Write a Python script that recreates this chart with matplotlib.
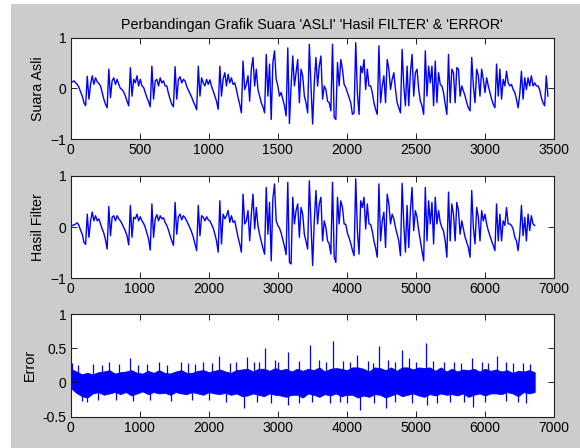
import numpy as np
import matplotlib
matplotlib.use('Agg')
import matplotlib.pyplot as plt
from matplotlib.patches import Rectangle

plt.rcParams['font.family'] = ['Liberation Sans', 'DejaVu Sans']

# signal values (one value every 12 samples for the original,
# every 24 samples for the filtered one)
suara_asli = [
    0.11, 0.13, 0.15, 0.11, 0.08, 0.02, -0.07, -0.15, -0.28, -0.34,
    0.24, -0.21, 0.08, 0.25, 0.08, 0.21, 0.13, 0.10, 0.05, -0.08,
    -0.21, -0.31, -0.38, 0.38, -0.18, 0.15, 0.21, 0.08, 0.18, 0.08,
    0.00, -0.02, -0.07, -0.15, -0.25, -0.34, 0.41, -0.15, 0.18, 0.11,
    0.25, 0.05, 0.18, 0.05, 0.02, -0.08, -0.18, -0.26, -0.36, 0.44,
    -0.21, 0.15, 0.18, 0.05, 0.21, 0.11, 0.15, 0.05, 0.05, -0.10,
    -0.21, -0.31, -0.36, 0.43, -0.21, 0.18, 0.23, 0.11, 0.18, 0.15,
    0.04, -0.03, -0.10, -0.17, -0.26, -0.33, -0.42, 0.44, -0.15, 0.21,
    0.11, 0.05, 0.18, 0.08, 0.17, 0.04, -0.05, -0.15, -0.25, -0.41,
    0.44, -0.15, 0.19, 0.31, 0.05, 0.28, 0.11,
    0.21, 0.08, 0.11, -0.02, -0.18, -0.31, -0.48, 0.54, -0.02, 0.08,
    0.25, -0.25, 0.38, 0.61, 0.05, 0.38, -0.02, -0.15, -0.28, -0.36,
    -0.48, 0.67, -0.15, 0.48, -0.61, 0.51, 0.74, 0.18, 0.05, -0.15,
    -0.08, -0.21, -0.34, -0.54, 0.80, -0.69, 0.05, 0.64, 0.05, 0.31,
    0.57, -0.28, 0.38, 0.25, -0.15, -0.28, -0.48, 0.87, 0.05, -0.70,
    0.11, 0.61, 0.05, 0.44, 0.64, -0.21, 0.05, -0.02, -0.25, -0.28,
    -0.44, 0.87, -0.57, -0.61, 0.51, 0.05, 0.57, 0.38, 0.08, 0.02,
    -0.08, -0.18, -0.28, -0.51, -0.48, 0.90, -0.08, -0.51, 0.44, 0.31,
    0.57, -0.02, 0.38, 0.05, 0.05, -0.08, -0.28, -0.41, -0.51, 0.84,
    -0.28, 0.05, 0.25, -0.28, 0.57, 0.38, -0.02,
    0.18, 0.31, -0.02, -0.28, -0.38, -0.48, 0.77, 0.05, -0.34, 0.44,
    -0.34, 0.31, 0.67, -0.15, 0.31, 0.38, -0.02, -0.25, -0.34, -0.51,
    0.74, -0.15, 0.44, 0.11, 0.44, -0.34, 0.54, -0.28, 0.31, 0.08,
    0.05, -0.08, -0.31, -0.51, 0.67, -0.28, 0.38, 0.31, -0.28, 0.41,
    0.38, -0.15, 0.05, -0.05, -0.15, -0.28, -0.38, -0.44, 0.61, 0.05,
    -0.28, 0.38, 0.25, -0.15, 0.38, 0.18, -0.08, 0.21, 0.05, -0.08,
    -0.21, -0.31, -0.38, 0.48, -0.15, 0.38, -0.21, 0.18, 0.05, 0.34,
    0.11, 0.05, 0.08, -0.02, -0.08, -0.21, -0.38, -0.11, 0.34, -0.21,
    0.21, -0.02, 0.21, 0.05, 0.25, 0.05, 0.11, 0.05, 0.05, -0.02,
    -0.18, -0.28, -0.34, 0.25, -0.15,
]
step_asli = 12

hasil_filter = [
    0.03, 0.03, 0.04, 0.06, 0.08, 0.03, -0.07, -0.14, -0.30, -0.34,
    0.25, -0.20, 0.12, 0.29, 0.12, 0.22, 0.12, 0.16, 0.06, -0.04,
    -0.12, -0.25, -0.43, 0.40, -0.17, 0.19, 0.22, 0.12, 0.22, 0.16,
    0.12, 0.06, -0.01, -0.08, -0.17, -0.35, 0.42, -0.20, 0.19, 0.16,
    0.25, 0.12, 0.20, 0.12, 0.07, -0.01, -0.12, -0.23, -0.45, 0.45,
    -0.20, 0.16, 0.24, 0.12, 0.22, 0.16, 0.18, 0.09, 0.03, -0.06,
    -0.17, -0.27, -0.36, 0.48, -0.14, 0.20, 0.25, 0.14, 0.22, 0.18,
    0.12, 0.05, -0.02, -0.10, -0.20, -0.33, -0.46, 0.42, -0.17, 0.22,
    0.19, 0.12, 0.20, 0.14, 0.12, 0.05, -0.02, -0.14, -0.27, -0.49,
    0.51, -0.33, 0.25, 0.16, 0.22, 0.32, 0.09,
    0.22, 0.09, 0.12, -0.04, -0.20, -0.33, -0.49, 0.64, 0.06, 0.12,
    0.32, -0.27, 0.25, 0.64, -0.04, 0.38, 0.03, -0.15, -0.28, -0.41,
    -0.53, 0.77, -0.14, 0.48, -0.66, 0.55, 0.84, 0.12, 0.03, -0.02,
    -0.12, -0.25, -0.38, -0.54, 0.87, -0.69, -0.72, 0.58, 0.06, 0.32,
    0.45, -0.20, 0.38, 0.25, -0.14, -0.28, -0.43, 0.90, 0.06, -0.75,
    0.12, 0.71, 0.06, 0.45, 0.58, -0.27, 0.12, -0.01, -0.27, -0.33,
    -0.53, 0.87, -0.58, -0.69, 0.58, 0.06, 0.51, 0.38, 0.06, 0.05,
    -0.12, -0.21, -0.32, -0.45, -0.56, 0.94, -0.07, -0.53, 0.51, 0.38,
    0.58, -0.04, 0.45, 0.06, 0.05, -0.08, -0.27, -0.41, -0.59, 0.84,
    -0.27, 0.12, 0.29, -0.40, 0.64, 0.45, 0.06,
    0.25, 0.16, -0.01, -0.14, -0.27, -0.56, 0.85, 0.06, -0.49, 0.42,
    -0.40, 0.32, 0.77, -0.07, 0.32, 0.19, -0.07, -0.27, -0.46, -0.66,
    0.77, -0.27, 0.51, 0.06, 0.48, -0.33, 0.58, 0.06, 0.32, 0.09,
    -0.01, -0.08, -0.27, -0.59, 0.68, -0.27, 0.45, 0.25, -0.27, 0.48,
    0.32, -0.14, 0.12, -0.04, -0.20, -0.30, -0.40, -0.59, 0.71, -0.01,
    -0.33, 0.38, 0.19, -0.27, 0.32, 0.12, 0.25, 0.06, -0.07, -0.17,
    -0.27, -0.36, -0.46, 0.45, -0.27, 0.25, -0.27, 0.12, 0.03, 0.38,
    0.06, 0.06, 0.03, -0.04, -0.20, -0.27, -0.46, -0.14, 0.42, -0.17,
    0.19, -0.27, 0.25, -0.07, 0.22, 0.06, 0.03,
]
step_filter = 24

# error: solid band edges every 80 samples, plus the thin spikes that stick out
err_upper = [
    0.2, 0.16, 0.12, 0.14, 0.12, 0.15, 0.16, 0.18, 0.13, 0.15,
    0.16, 0.18, 0.14, 0.13, 0.17, 0.14, 0.18, 0.14, 0.13, 0.16,
    0.18, 0.14, 0.14, 0.17, 0.18, 0.15, 0.17, 0.19, 0.16, 0.14,
    0.18, 0.19, 0.2, 0.16, 0.2, 0.2, 0.17, 0.21, 0.18, 0.2,
    0.16, 0.2, 0.17, 0.2, 0.18, 0.22, 0.16, 0.2, 0.21, 0.2,
    0.18, 0.22, 0.22, 0.2, 0.16, 0.22, 0.21, 0.18, 0.22, 0.17,
    0.22, 0.22, 0.19, 0.22, 0.21, 0.22, 0.17, 0.22, 0.16, 0.2,
    0.16, 0.19, 0.18, 0.2, 0.16, 0.2, 0.17, 0.19, 0.16, 0.18,
    0.14, 0.17, 0.16, 0.18, 0.15,
]
err_lower = [
    -0.08, -0.15, -0.2, -0.22, -0.16, -0.14, -0.18, -0.16, -0.14, -0.17,
    -0.14, -0.19, -0.16, -0.13, -0.17, -0.14, -0.16, -0.15, -0.18, -0.14,
    -0.16, -0.17, -0.14, -0.16, -0.18, -0.14, -0.16, -0.17, -0.15, -0.18,
    -0.16, -0.2, -0.19, -0.16, -0.18, -0.2, -0.16, -0.18, -0.19, -0.21,
    -0.18, -0.18, -0.22, -0.16, -0.18, -0.21, -0.17, -0.19, -0.16, -0.2,
    -0.18, -0.18, -0.22, -0.19, -0.21, -0.17, -0.18, -0.22, -0.19, -0.16,
    -0.2, -0.18, -0.16, -0.19, -0.21, -0.17, -0.19, -0.16, -0.18, -0.17,
    -0.19, -0.16, -0.21, -0.18, -0.16, -0.19, -0.16, -0.16, -0.17, -0.14,
    -0.16, -0.2, -0.14, -0.16, -0.14,
]
err_step = 80
spike_pos = [20, 100, 330, 450, 560, 700, 860, 980, 1100, 1280, 1400, 1600,
             1700, 1800, 1920, 2050, 2154, 2300, 2400, 2560, 2650, 2720, 2816,
             2960, 3000, 3140, 3300, 3468, 3600, 3700, 3806, 3950, 4050, 4144,
             4300, 4380, 4467, 4600, 4700, 4796, 4900, 5000, 5143, 5250, 5400,
             5550, 5650, 5810, 5950, 6050, 6173, 6300, 6400, 6550, 6650,
             160, 240, 400, 650, 900, 1150, 1450, 1750, 2000, 2250, 2512,
             2700, 2900, 3140, 3300, 3500, 3750, 3900, 4000, 4192, 4400, 4564,
             4700, 4950, 5158, 5300, 5500, 5700, 5825, 6000, 6300, 6472, 6600]
spike_val = [0.28, 0.26, 0.27, 0.25, 0.3, 0.27, 0.35, 0.26, 0.27, 0.3, 0.26, 0.3,
             0.28, 0.27, 0.3, 0.28, 0.38, 0.28, 0.3, 0.37, 0.3, 0.3, 0.5,
             0.33, 0.3, 0.45, 0.32, 0.55, 0.33, 0.3, 0.6, 0.32, 0.3, 0.4,
             0.32, 0.28, 0.53, 0.33, 0.3, 0.47, 0.35, 0.3, 0.57, 0.32, 0.3,
             0.3, 0.28, 0.35, 0.3, 0.28, 0.38, 0.3, 0.28, 0.28, 0.27,
             -0.27, -0.28, -0.26, -0.25, -0.27, -0.25, -0.27, -0.26, -0.25, -0.28, -0.38,
             -0.28, -0.3, -0.33, -0.3, -0.29, -0.3, -0.28, -0.3, -0.4, -0.3, -0.38,
             -0.28, -0.3, -0.33, -0.3, -0.28, -0.29, -0.36, -0.28, -0.27, -0.28, -0.3]

judul = "Perbandingan Grafik Suara 'ASLI' 'Hasil FILTER' & 'ERROR'"


def style_axes(ax):
    ax.tick_params(direction='in', top=True, right=True, length=4, width=0.6,
                   labelsize=10, pad=3, colors='black')
    for s in ax.spines.values():
        s.set_linewidth(0.8)
        s.set_color('#202020')


fig = plt.figure(figsize=(5.8, 4.48), dpi=100, facecolor='white')
fig.patches.append(Rectangle((11 / 580, 0), 1, 444 / 448, transform=fig.transFigure,
                             facecolor=(0.8, 0.8, 0.8), edgecolor='none', zorder=-10))

ax1 = fig.add_axes([0.1219, 0.6891, 0.8333, 0.2268])
x1 = np.arange(len(suara_asli)) * step_asli
ax1.plot(x1, suara_asli, color='blue', lw=1.0)
ax1.set_xlim(0, 3500)
ax1.set_ylim(-1, 1)
ax1.set_xticks(range(0, 3501, 500))
ax1.set_yticks([-1, 0, 1])
ax1.set_ylabel('Suara Asli', fontsize=10.3)
ax1.set_title(judul, fontsize=10.3, pad=6)
style_axes(ax1)

ax2 = fig.add_axes([0.1219, 0.3788, 0.8333, 0.229])
x2 = np.arange(len(hasil_filter)) * step_filter
ax2.plot(x2, hasil_filter, color='blue', lw=1.0)
ax2.set_xlim(0, 7000)
ax2.set_ylim(-1, 1)
ax2.set_xticks(range(0, 7001, 1000))
ax2.set_yticks([-1, 0, 1])
ax2.set_ylabel('Hasil Filter', fontsize=10.3)
style_axes(ax2)

ax3 = fig.add_axes([0.1219, 0.0699, 0.8333, 0.2292])
x3 = np.arange(len(err_upper)) * err_step
ax3.fill_between(x3, err_lower, err_upper, color='blue', lw=0.6)
ax3.vlines(spike_pos, 0, spike_val, color='blue', lw=0.9)
ax3.set_xlim(0, 7000)
ax3.set_ylim(-0.5, 1)
ax3.set_xticks(range(0, 7001, 1000))
ax3.set_yticks([-0.5, 0, 0.5, 1])
ax3.set_yticklabels(['-0.5', '0', '0.5', '1'])
ax3.set_ylabel('Error', fontsize=10.3)
style_axes(ax3)

fig.savefig('out.png', dpi=100, facecolor=fig.get_facecolor())
